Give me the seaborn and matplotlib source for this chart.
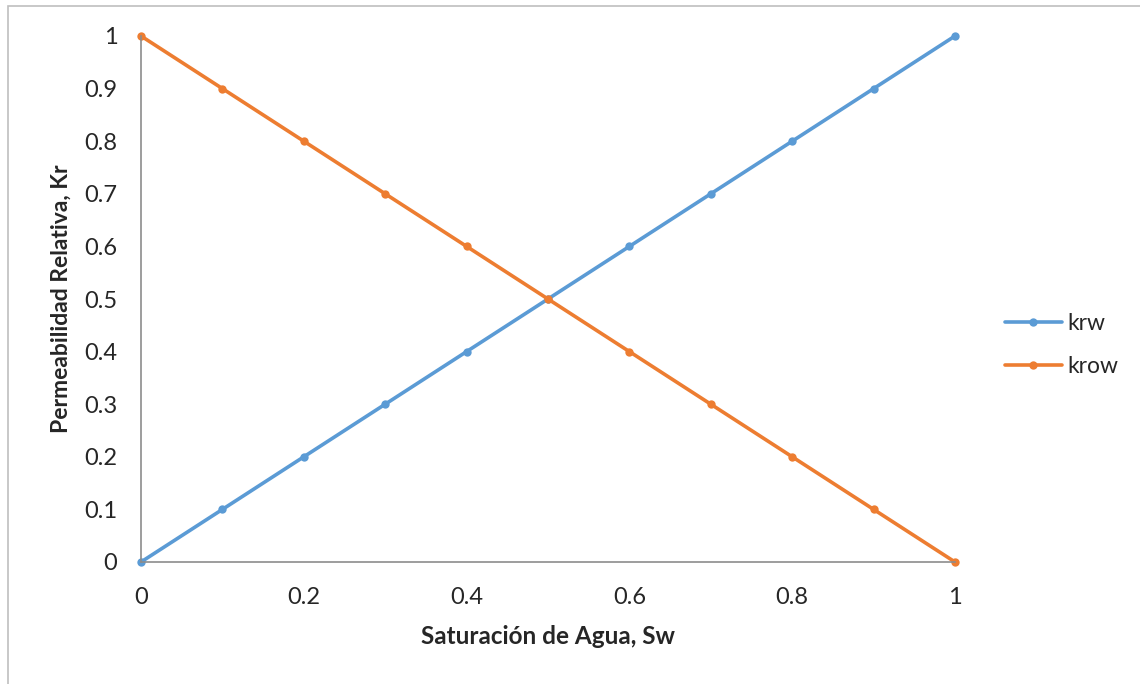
import matplotlib
matplotlib.use("Agg")
import matplotlib.pyplot as plt
import seaborn as sns
import pandas as pd
from matplotlib.patches import Rectangle

# Relative permeability curves
sw = [0.0, 0.1, 0.2, 0.3, 0.4, 0.5, 0.6, 0.7, 0.8, 0.9, 1.0]
krw = [0.0, 0.1, 0.2, 0.3, 0.4, 0.5, 0.6, 0.7, 0.8, 0.9, 1.0]
krow = [1.0, 0.9, 0.8, 0.7, 0.6, 0.5, 0.4, 0.3, 0.2, 0.1, 0.0]
series_names = ["krw", "krow"]
colors = ["#5B9BD5", "#ED7D31"]
x_ticks = [0, 0.2, 0.4, 0.6, 0.8, 1]
y_ticks = [0, 0.1, 0.2, 0.3, 0.4, 0.5, 0.6, 0.7, 0.8, 0.9, 1]

df = pd.concat([
    pd.DataFrame({"Sw": sw, "kr": krw, "serie": series_names[0]}),
    pd.DataFrame({"Sw": sw, "kr": krow, "serie": series_names[1]}),
])

sns.set_theme(style="white")
plt.rcParams["font.family"] = ["Lato", "DejaVu Sans"]

W, H = 1140, 684
fig = plt.figure(figsize=(W / 100, H / 100), dpi=100)
ax = fig.add_axes([141 / W, 1 - 562 / H, (955 - 141) / W, (562 - 36) / H])

# light chart-area border
fig.patches.append(Rectangle((8 / W, -0.01), 1.02, 1 - 6 / H + 0.01,
                             transform=fig.transFigure, fill=False,
                             edgecolor="#BFBFBF", linewidth=1.2, zorder=0))

sns.lineplot(data=df, x="Sw", y="kr", hue="serie", palette=colors,
             marker="o", markersize=6, markeredgewidth=0, linewidth=2.6,
             ax=ax, clip_on=False, legend=True)

ax.set_xlim(0, 1)
ax.set_ylim(0, 1)
ax.set_xticks(x_ticks)
ax.set_xticklabels([f"{t:g}" for t in x_ticks])
ax.set_yticks(y_ticks)
ax.set_yticklabels([f"{t:g}" for t in y_ticks])
ax.tick_params(axis="both", length=0, labelsize=17, colors="#262626")
ax.tick_params(axis="y", pad=17)
ax.tick_params(axis="x", pad=18)

for side in ["top", "right"]:
    ax.spines[side].set_visible(False)
for side in ["left", "bottom"]:
    ax.spines[side].set_color("#8C8C8C")
    ax.spines[side].set_linewidth(1.2)

ax.set_xlabel("Saturación de Agua, Sw", fontsize=17.5, fontweight="bold",
              color="#262626")
ax.set_ylabel("Permeabilidad Relativa, Kr", fontsize=16.5, fontweight="bold",
              color="#262626")
ax.xaxis.label.set_verticalalignment("center")
ax.yaxis.label.set_verticalalignment("center")
ax.xaxis.set_label_coords(0.5, (562 - 637) / (562 - 36))
ax.yaxis.set_label_coords((61 - 141) / (955 - 141), 0.5)

handles, labels = ax.get_legend_handles_labels()
ax.legend(handles, labels, loc="center left",
          bbox_to_anchor=(984 / W, 1 - 345 / H),
          bbox_transform=fig.transFigure, frameon=False, fontsize=16.5,
          handlelength=2.5, labelspacing=1.0, handletextpad=0.25,
          labelcolor="#262626")

fig.savefig("out.png", dpi=100)
